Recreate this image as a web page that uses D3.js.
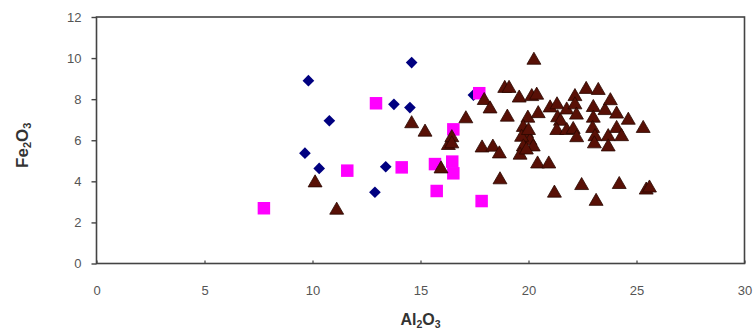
<!DOCTYPE html>
<html>
<head>
<meta charset="utf-8">
<script src="https://cdn.jsdelivr.net/npm/d3@7/dist/d3.min.js"></script>
<style>
  html, body { margin: 0; padding: 0; background: #fff; }
  svg { display: block; }
  text { font-family: "Liberation Sans", Arial, sans-serif; }
</style>
</head>
<body>
<svg id="chart" width="753" height="331"></svg>
<script>
// Al2O3 vs Fe2O3 (wt%) for three sample groups
const xTicks = [0, 5, 10, 15, 20, 25, 30];
const yTicks = [0, 2, 4, 6, 8, 10, 12];

// group 1 (diamonds)
const diamonds = [
  [9.81, 8.90], [10.78, 6.95], [9.65, 5.37], [10.31, 4.63], [12.89, 3.47],
  [13.39, 4.71], [13.77, 7.75], [14.51, 7.59], [14.59, 9.78], [17.45, 8.20]
];

// group 2 (squares)
const squares = [
  [7.75, 2.69], [11.61, 4.52], [12.94, 7.80], [14.13, 4.68], [15.67, 4.84],
  [15.75, 3.53], [16.47, 4.96], [16.52, 4.39], [16.52, 6.53], [17.72, 8.29],
  [17.83, 3.04]
];

// group 3 (triangles)
const triangles = [
  [10.12, 3.95], [11.12, 2.62], [14.59, 6.83], [15.21, 6.42], [15.95, 4.63],
  [16.29, 5.77], [16.45, 6.15], [16.45, 5.85], [17.10, 7.07], [17.95, 7.96],
  [18.22, 7.55], [17.85, 5.65], [18.35, 5.69], [18.65, 5.36], [18.68, 4.10],
  [18.90, 8.55], [19.10, 8.55], [19.57, 8.08], [19.02, 7.15], [20.25, 9.92],
  [20.15, 8.15], [20.38, 8.22], [19.97, 7.10], [20.45, 7.32], [21.00, 7.60],
  [21.32, 7.75], [21.35, 7.12], [21.48, 6.95], [21.77, 7.50], [19.76, 6.65],
  [19.91, 6.35], [20.07, 6.00], [19.68, 6.17], [19.76, 5.70], [20.22, 5.70],
  [19.61, 5.30], [19.90, 5.55], [20.00, 6.50], [20.42, 4.87], [20.94, 4.87],
  [21.31, 6.50], [21.77, 6.50], [21.20, 3.45], [22.15, 8.15], [22.15, 7.75],
  [22.22, 7.25], [22.07, 6.55], [22.23, 6.15], [22.67, 8.50], [23.23, 8.45],
  [23.00, 7.62], [23.00, 7.10], [22.97, 6.60], [23.08, 6.20], [23.05, 5.85],
  [23.54, 7.47], [23.79, 7.95], [24.08, 7.30], [23.69, 6.20], [23.69, 5.70],
  [24.08, 6.60], [24.31, 6.20], [24.62, 7.00], [25.31, 6.60], [22.46, 3.82],
  [23.13, 3.05], [24.20, 3.87], [25.45, 3.60], [25.60, 3.70]
];

const svg = d3.select("#chart");
const plot = { left: 96.5, right: 744.5, top: 17, bottom: 263.5 };

const x = d3.scaleLinear().domain([0, 30]).range([plot.left, plot.right]);
const y = d3.scaleLinear().domain([0, 12]).range([plot.bottom, plot.top]);

// markers
const sym = (type, size) => d3.symbol().type(type).size(size)();

svg.append("g").selectAll("path").data(diamonds).join("path")
  .attr("d", sym(d3.symbolSquare, 68))
  .attr("transform", d => `translate(${x(d[0])},${y(d[1])}) rotate(45)`)
  .attr("fill", "#000080");

svg.append("g").selectAll("path").data(squares).join("path")
  .attr("d", sym(d3.symbolSquare, 156))
  .attr("transform", d => `translate(${x(d[0])},${y(d[1])})`)
  .attr("fill", "#ff00ff");

svg.append("g").selectAll("path").data(triangles).join("path")
  .attr("d", sym(d3.symbolTriangle, 84))
  .attr("transform", d => `translate(${x(d[0])},${y(d[1]) + 0.5})`)
  .attr("fill", "#581006")
  .attr("stroke", "#2a0800")
  .attr("stroke-width", 0.8);

// frame
svg.append("rect")
  .attr("x", plot.left).attr("y", plot.top)
  .attr("width", plot.right - plot.left).attr("height", plot.bottom - plot.top)
  .attr("fill", "none").attr("stroke", "#444").attr("stroke-width", 1.6);

// y axis (ticks outward)
const yAxis = svg.append("g")
  .attr("transform", `translate(${plot.left},0)`)
  .call(d3.axisLeft(y).tickValues(yTicks).tickSize(5).tickPadding(10).tickFormat(d3.format("d")));
yAxis.select(".domain").remove();
yAxis.selectAll(".tick line").attr("stroke", "#444").attr("stroke-width", 1.4);
yAxis.selectAll(".tick text").attr("fill", "#555").attr("font-size", 13)
  .attr("font-family", "'Liberation Sans', Arial, sans-serif");

// x axis (small ticks inward)
const xAxis = svg.append("g")
  .attr("transform", `translate(0,${plot.bottom})`)
  .call(d3.axisBottom(x).tickValues(xTicks).tickSizeInner(-3).tickSizeOuter(0).tickPadding(22).tickFormat(d3.format("d")));
xAxis.select(".domain").remove();
xAxis.selectAll(".tick line").attr("stroke", "#444").attr("stroke-width", 1.2);
xAxis.selectAll(".tick text").attr("fill", "#555").attr("font-size", 13)
  .attr("font-family", "'Liberation Sans', Arial, sans-serif");

// axis titles with subscripts
const xTitle = svg.append("text")
  .attr("x", (plot.left + plot.right) / 2).attr("y", 325)
  .attr("text-anchor", "middle").attr("font-size", 16).attr("font-weight", "bold").attr("fill", "#333");
xTitle.append("tspan").text("Al");
xTitle.append("tspan").text("2").attr("font-size", 10.5).attr("dy", 3);
xTitle.append("tspan").text("O").attr("dy", -3);
xTitle.append("tspan").text("3").attr("font-size", 10.5).attr("dy", 3);

const yTitle = svg.append("text")
  .attr("transform", `translate(28,${(plot.top + plot.bottom) / 2 + 5}) rotate(-90)`)
  .attr("text-anchor", "middle").attr("font-size", 17).attr("font-weight", "bold").attr("fill", "#333");
yTitle.append("tspan").text("Fe");
yTitle.append("tspan").text("2").attr("font-size", 11).attr("dy", 3);
yTitle.append("tspan").text("O").attr("dy", -3);
yTitle.append("tspan").text("3").attr("font-size", 11).attr("dy", 3);
</script>
</body>
</html>
